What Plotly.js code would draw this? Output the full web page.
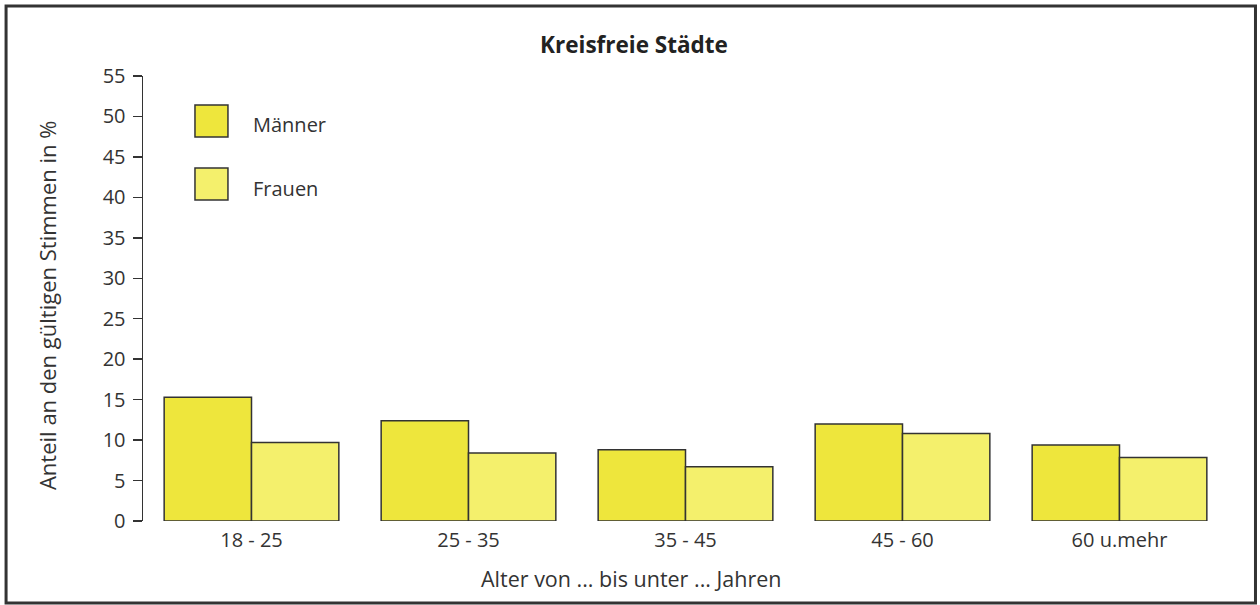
<!DOCTYPE html>
<html>
<head>
<meta charset="utf-8">
<script src="https://cdn.plot.ly/plotly-3.0.1.min.js"></script>
<style>
html,body{margin:0;padding:0;background:#fff;}
#chart{width:1260px;height:605px;}
</style>
</head>
<body>
<div id="chart"></div>
<script>
const categories = ["18 - 25", "25 - 35", "35 - 45", "45 - 60", "60 u.mehr"];
const maenner = [15.3, 12.4, 8.8, 12.0, 9.4];
const frauen = [9.7, 8.4, 6.7, 10.8, 7.85];
const seriesNames = ["Männer", "Frauen"];
const seriesColors = ["#eee63c", "#f4f06c"];
const yTicks = [0, 5, 10, 15, 20, 25, 30, 35, 40, 45, 50, 55];
const titleText = "Kreisfreie Städte";
const xTitle = "Alter von ... bis unter ... Jahren";
const yTitle = "Anteil an den gültigen Stimmen in %";

const font = "'Open Sans', 'Noto Sans', sans-serif";
const txt = "#333";
const edge = {color: "#333", width: 1.5};

const traces = [
  {type: "bar", name: seriesNames[0], x: categories, y: maenner,
   marker: {color: seriesColors[0], line: edge}, showlegend: false, hoverinfo: "x+y"},
  {type: "bar", name: seriesNames[1], x: categories, y: frauen,
   marker: {color: seriesColors[1], line: edge}, showlegend: false, hoverinfo: "x+y"}
];

// plot area geometry helpers (paper coords)
const L = 143, R = 1228.5, T = 76, B = 521;
const px = v => (v - L) / (R - L);
const py = v => (B - v) / (B - T);

const shapes = [
  {type: "rect", xref: "paper", yref: "paper", x0: px(6), x1: px(1256), y0: py(603), y1: py(6),
   line: {color: "#333", width: 3}, fillcolor: "rgba(0,0,0,0)", layer: "below"},
  {type: "rect", xref: "paper", yref: "paper", x0: px(195), x1: px(228), y0: py(137), y1: py(105),
   line: edge, fillcolor: seriesColors[0]},
  {type: "rect", xref: "paper", yref: "paper", x0: px(195), x1: px(228), y0: py(200), y1: py(168),
   line: edge, fillcolor: seriesColors[1]}
];

const annotations = [
  {xref: "paper", yref: "paper", x: px(251), y: py(125), text: seriesNames[0], showarrow: false,
   xanchor: "left", yanchor: "middle", font: {family: font, size: 20, color: txt}},
  {xref: "paper", yref: "paper", x: px(251), y: py(188), text: seriesNames[1], showarrow: false,
   xanchor: "left", yanchor: "middle", font: {family: font, size: 20, color: txt}},
  {xref: "paper", yref: "paper", x: px(631), y: py(578), text: xTitle, showarrow: false,
   xanchor: "center", yanchor: "middle", font: {family: font, size: 21.5, color: txt}},
  {xref: "paper", yref: "paper", x: px(47), y: py(306), text: yTitle, showarrow: false, textangle: -90,
   xanchor: "center", yanchor: "middle", font: {family: font, size: 22, color: txt}}
];

const layout = {
  width: 1260, height: 605,
  paper_bgcolor: "#fff", plot_bgcolor: "#fff",
  margin: {l: L, r: 1260 - R, t: T, b: 605 - B},
  font: {family: font, size: 20, color: txt},
  title: {text: "<b>" + titleText + "</b>", x: 634 / 1260, xref: "container", xanchor: "center",
          y: 1 - 45 / 605, yref: "container", yanchor: "middle",
          font: {family: font, size: 22.5, color: "#222"}},
  barmode: "group",
  bargap: 0.195,
  bargroupgap: 0,
  xaxis: {
    type: "category", range: [-0.5, 4.5], showline: false, showgrid: false, zeroline: false,
    ticks: "", tickfont: {family: font, size: 20, color: txt}, ticklabelstandoff: 5,
    fixedrange: true
  },
  yaxis: {
    range: [0, 55], tickvals: yTicks, ticktext: yTicks.map(String),
    showline: true, linecolor: "#333", linewidth: 1.5,
    ticks: "outside", ticklen: 9, tickwidth: 1.5, tickcolor: "#333",
    showgrid: false, zeroline: false, ticklabelstandoff: 3,
    tickfont: {family: font, size: 20, color: txt},
    fixedrange: true
  },
  shapes: shapes,
  annotations: annotations,
  showlegend: false
};

Plotly.newPlot("chart", traces, layout, {displayModeBar: false, staticPlot: true});
</script>
</body>
</html>
